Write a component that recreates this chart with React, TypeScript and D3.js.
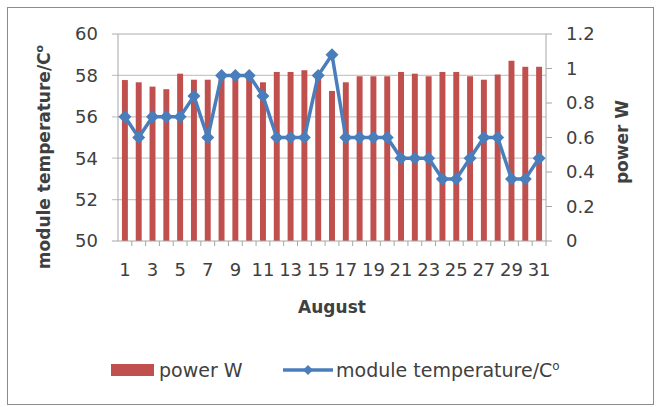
import React from "react";
import * as d3 from "d3";

const days = ["1","2","3","4","5","6","7","8","9","10","11","12","13","14","15","16","17","18","19","20","21","22","23","24","25","26","27","28","29","30","31"];
const power = [0.933, 0.92, 0.895, 0.88, 0.97, 0.935, 0.935, 0.96, 0.96, 0.96, 0.92, 0.98, 0.98, 0.99, 0.96, 0.87, 0.92, 0.955, 0.955, 0.955, 0.98, 0.97, 0.955, 0.98, 0.98, 0.955, 0.935, 0.965, 1.045, 1.01, 1.01];
const temperature = [56, 55, 56, 56, 56, 57, 55, 58, 58, 58, 57, 55, 55, 55, 58, 59, 55, 55, 55, 55, 54, 54, 54, 53, 53, 54, 55, 55, 53, 53, 54];
const leftTicks = [50, 52, 54, 56, 58, 60];
const rightTicks = [0, 0.2, 0.4, 0.6, 0.8, 1, 1.2];

const W = 660, H = 407;
const L = 118, R = 546, T = 34, B = 241;
const FONT = "'DejaVu Sans', 'Liberation Sans', sans-serif";
const FS = 18;
const FSB = 17;
const FSL = 19;
const BAR = "#C0504D";
const LINE = "#4A7EBB";
const GRID = "#C8C8C8";
const AXIS = "#A6A6A6";
const TXT = "#404040";

export default function App() {
  const x = d3.scaleBand().domain(days).range([L, R]).paddingInner(0.57).paddingOuter(0.285);
  const xc = (d: string) => (x(d) as number) + x.bandwidth() / 2;
  const step = (R - L) / days.length;
  const yL = d3.scaleLinear().domain([50, 60]).range([B, T]);
  const yR = d3.scaleLinear().domain([0, 1.2]).range([B, T]);
  const line = d3.line<number>().x((_, i) => xc(days[i])).y((v) => yL(v));
  const diamond = (cx: number, cy: number, r: number) =>
    `M${cx},${cy - r}L${cx + r},${cy}L${cx},${cy + r}L${cx - r},${cy}Z`;

  return (
    <svg width={W} height={H} style={{ position: "absolute", left: 0, top: 0, background: "#fff" }}>
      <rect x={7.5} y={7.5} width={646} height={397} fill="#fff" stroke="#8c8c8c" strokeWidth={1} />
      {/* gridlines */}
      {leftTicks.slice(1).map((t) => (
        <line key={t} x1={L - 6} x2={R} y1={yL(t)} y2={yL(t)} stroke={GRID} strokeWidth={1.3} />
      ))}
      {/* left axis */}
      <line x1={L} x2={L} y1={T} y2={B} stroke={AXIS} strokeWidth={1} />
      <line x1={L - 6} x2={L} y1={B} y2={B} stroke={AXIS} />
      {/* right axis */}
      <line x1={R} x2={R} y1={T} y2={B} stroke={AXIS} strokeWidth={1} />
      {rightTicks.map((t) => (
        <line key={t} x1={R} x2={R + 6} y1={yR(t)} y2={yR(t)} stroke={AXIS} />
      ))}
      {/* bars */}
      {power.map((v, i) => (
        <rect key={i} x={x(days[i])} y={yR(v)} width={x.bandwidth()} height={B - yR(v)} fill={BAR} />
      ))}
      {/* x axis */}
      <line x1={L} x2={R} y1={B} y2={B} stroke={AXIS} strokeWidth={1} />
      {days.map((d, i) => (
        <line key={d} x1={L + step * (i + 1)} x2={L + step * (i + 1)} y1={B} y2={B + 5} stroke={AXIS} />
      ))}
      {/* line */}
      <path d={line(temperature) || ""} fill="none" stroke={LINE} strokeWidth={3.5} strokeLinejoin="round" />
      {temperature.map((v, i) => (
        <path key={i} d={diamond(xc(days[i]), yL(v), 6.5)} fill={LINE} />
      ))}
      {/* left tick labels */}
      {leftTicks.map((t) => (
        <text key={t} x={98} y={yL(t)} dy="0.36em" textAnchor="end" fontFamily={FONT} fontSize={FS} fill={TXT}>
          {t}
        </text>
      ))}
      {/* right tick labels */}
      {rightTicks.map((t) => (
        <text key={t} x={566} y={yR(t)} dy="0.36em" textAnchor="start" fontFamily={FONT} fontSize={FS} fill={TXT}>
          {String(t)}
        </text>
      ))}
      {/* x tick labels */}
      {days.map((d, i) =>
        i % 2 === 0 ? (
          <text key={d} x={xc(d)} y={270} dy="0.36em" textAnchor="middle" fontFamily={FONT} fontSize={FS} fill={TXT}>
            {d}
          </text>
        ) : null
      )}
      {/* axis titles */}
      <text x={332} y={307} dy="0.36em" textAnchor="middle" fontFamily={FONT} fontSize={FSB} fontWeight="bold" fill={TXT}>
        August
      </text>
      <text transform="translate(44,157) rotate(-90)" dy="0.36em" textAnchor="middle" fontFamily={FONT} fontSize={FSB} fontWeight="bold" fill={TXT}>
        module temperature/C<tspan fontSize={11} dy="-7">o</tspan>
      </text>
      <text transform="translate(622,142) rotate(-90)" dy="0.36em" textAnchor="middle" fontFamily={FONT} fontSize={FSB} fontWeight="bold" fill={TXT}>
        power W
      </text>
      {/* legend */}
      <rect x={111} y={364} width={43} height={12} fill={BAR} />
      <text x={159} y={370} dy="0.36em" fontFamily={FONT} fontSize={FSL} fill={TXT}>power W</text>
      <line x1={283} x2={333} y1={370} y2={370} stroke={LINE} strokeWidth={3.5} />
      <path d={diamond(308, 370, 5)} fill={LINE} />
      <text x={336} y={370} dy="0.36em" fontFamily={FONT} fontSize={FSL} fill={TXT}>
        module temperature/C<tspan fontSize={12} dy="-7">o</tspan>
      </text>
    </svg>
  );
}
